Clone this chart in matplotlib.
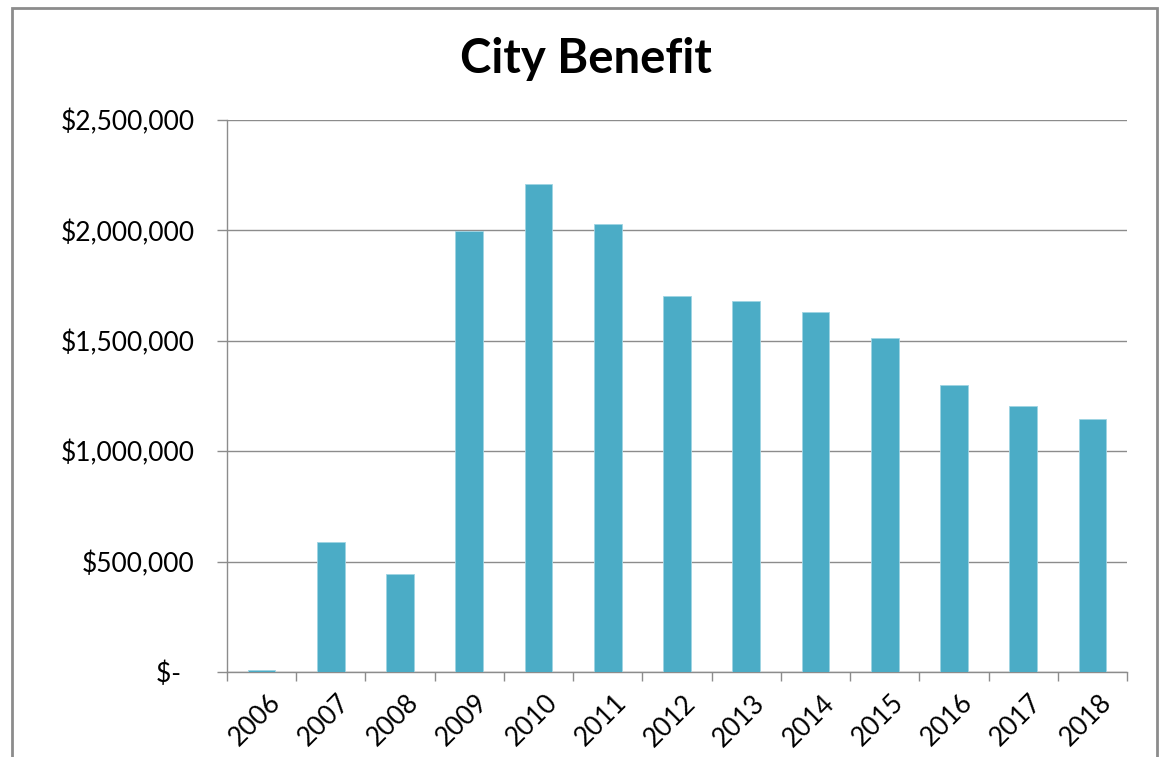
import numpy as np
import matplotlib.pyplot as plt
import matplotlib.transforms as mtransforms
from matplotlib.patches import Rectangle
from matplotlib.ticker import FuncFormatter

plt.rcParams['font.family'] = ['Lato', 'DejaVu Sans']

years = ['2006', '2007', '2008', '2009', '2010', '2011', '2012',
         '2013', '2014', '2015', '2016', '2017', '2018']
benefit = [8000, 589000, 444000, 1998000, 2212000, 2031000, 1703000,
           1681000, 1630000, 1513000, 1299000, 1205000, 1147000]
y_ticks = [0, 500000, 1000000, 1500000, 2000000, 2500000]

fig = plt.figure(figsize=(11.59, 7.57), dpi=100)
ax = fig.add_axes([227/1159, 1 - 672/757, 900/1159, 552/757])

x = np.arange(len(years))
ax.bar(x, benefit, width=0.4, color='#4BACC6', edgecolor='#9fd4e3', linewidth=0.6, zorder=3)

ax.set_xlim(-0.5, len(years) - 0.5)
ax.set_ylim(0, 2500000)
ax.set_yticks(y_ticks)

def money(v, pos):
    if v == 0:
        return '$-  '
    return '${:,.0f}'.format(v)

ax.yaxis.set_major_formatter(FuncFormatter(money))
ax.grid(axis='y', color='#8c8c8c', linewidth=1, zorder=0)

# year labels under bars, tick marks between categories
ax.set_xticks(x)
ax.set_xticklabels(years, rotation=45, ha='right', rotation_mode='anchor')
ax.set_xticks(np.arange(-0.5, len(years)), minor=True)
ax.tick_params(axis='x', which='major', length=0, pad=13, labelsize=19)
ax.tick_params(axis='x', which='minor', length=6.5, width=1, color='#8c8c8c')
ax.tick_params(axis='y', length=7.2, width=1, color='#8c8c8c', pad=16, labelsize=19)
shift = mtransforms.ScaledTranslation(6/100, 0, fig.dpi_scale_trans)
for lab in ax.get_xticklabels():
    lab.set_transform(lab.get_transform() + shift)

for s in ['top', 'right']:
    ax.spines[s].set_visible(False)
for s in ['left', 'bottom']:
    ax.spines[s].set_color('#8c8c8c')
    ax.spines[s].set_linewidth(1)

fig.text(586/1159, 1 - 59/757, 'City Benefit', ha='center', va='center',
         fontsize=34, fontweight='bold')

# outer chart frame
fig.patches.append(Rectangle((12/1159, -0.02), 1145/1159, 1.02 - 8/757,
                             transform=fig.transFigure, fill=False,
                             edgecolor='#8c8c8c', linewidth=2))

fig.savefig('out.png', dpi=100)
